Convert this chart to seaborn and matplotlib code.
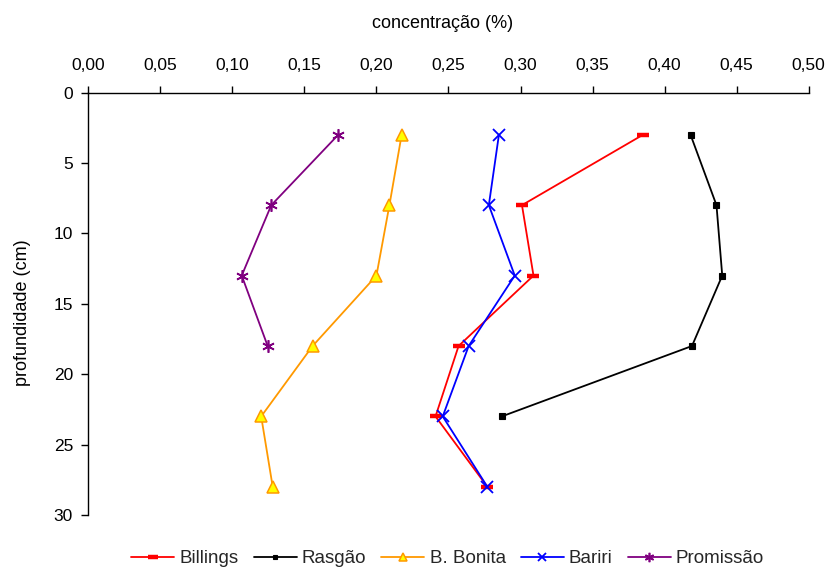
import matplotlib
matplotlib.use("Agg")
import matplotlib.pyplot as plt
import seaborn as sns
import pandas as pd
from matplotlib.ticker import FixedLocator, FuncFormatter

depth_all = [3, 8, 13, 18, 23, 28]
depth_4 = [3, 8, 13, 18]
depth_5 = [3, 8, 13, 18, 23]

billings = [0.385, 0.301, 0.309, 0.257, 0.241, 0.277]
rasgao = [0.418, 0.436, 0.440, 0.419, 0.287]
bbonita = [0.2175, 0.209, 0.200, 0.1557, 0.120, 0.128]
bariri = [0.285, 0.278, 0.296, 0.264, 0.246, 0.277]
promissao = [0.1735, 0.127, 0.1065, 0.1245]

names = ["Billings", "Rasgão", "B. Bonita", "Bariri", "Promissão"]
x_ticks = [0.00, 0.05, 0.10, 0.15, 0.20, 0.25, 0.30, 0.35, 0.40, 0.45, 0.50]
y_ticks = [0, 5, 10, 15, 20, 25, 30]

sns.set_theme(style="white")
plt.rcParams['font.family'] = ['Liberation Sans', 'DejaVu Sans']

fig = plt.figure(figsize=(8.29, 5.70), dpi=100)
ax = fig.add_axes([0.1065, 0.0965, 0.869, 0.7412])

series = [
    (names[0], billings, depth_all, dict(color="#ff0000", marker="_", markersize=9, markeredgewidth=3.2,
                                          markeredgecolor="#ff0000")),
    (names[1], rasgao, depth_5, dict(color="#000000", marker="s", markersize=4.5, markeredgewidth=0.8,
                                      markeredgecolor="#000000", markerfacecolor="#000000")),
    (names[2], bbonita, depth_all, dict(color="#ff9900", marker="^", markersize=8, markeredgewidth=1.1,
                                         markeredgecolor="#ff9900", markerfacecolor="#ffff00")),
    (names[3], bariri, depth_all, dict(color="#0000ff", marker="x", markersize=8, markeredgewidth=1.3,
                                        markeredgecolor="#0000ff")),
    (names[4], promissao, depth_4, dict(color="#800080", marker=(6, 2, 0), markersize=9, markeredgewidth=1.2,
                                         markeredgecolor="#800080")),
]

for name, xs, ys, kw in series:
    df = pd.DataFrame({"conc": xs, "prof": ys})
    sns.lineplot(data=df, x="conc", y="prof", sort=False, estimator=None, ax=ax,
                 label=name, linewidth=1.3, **kw)

ax.set_xlim(0, 0.5)
ax.set_ylim(30, 0)
ax.xaxis.set_major_locator(FixedLocator(x_ticks))
ax.yaxis.set_major_locator(FixedLocator(y_ticks))
ax.xaxis.set_major_formatter(FuncFormatter(lambda v, p: f"{v:.2f}".replace(".", ",")))
ax.yaxis.set_major_formatter(FuncFormatter(lambda v, p: f"{int(round(v))}"))
ax.xaxis.tick_top()
ax.xaxis.set_label_position("top")
ax.tick_params(axis="both", which="major", direction="out", length=5, width=1, colors="#000000",
               labelsize=12.5, pad=6, top=True, bottom=False, left=True, right=False)
ax.tick_params(axis="x", pad=9)

for s in ["right", "bottom"]:
    ax.spines[s].set_visible(False)
for s in ["left", "top"]:
    ax.spines[s].set_color("#000000")
    ax.spines[s].set_linewidth(1.0)

ax.set_xlabel("concentração (%)", fontsize=13, color="#000000")
ax.set_ylabel("profundidade (cm)", fontsize=13, color="#000000")
ax.xaxis.set_label_coords(0.492, 1.153)
ax.yaxis.set_label_coords(-0.0795, 0.48)
ax.grid(False)

handles, labels = ax.get_legend_handles_labels()
ax.get_legend().remove()
fig.legend(handles, labels, loc="center", bbox_to_anchor=(0.54, 0.02), ncol=5, frameon=False,
           fontsize=13.5, handlelength=2.3, handletextpad=0.27, columnspacing=0.8,
           markerscale=0.75)

fig.savefig("out.png", dpi=100, facecolor="white")
